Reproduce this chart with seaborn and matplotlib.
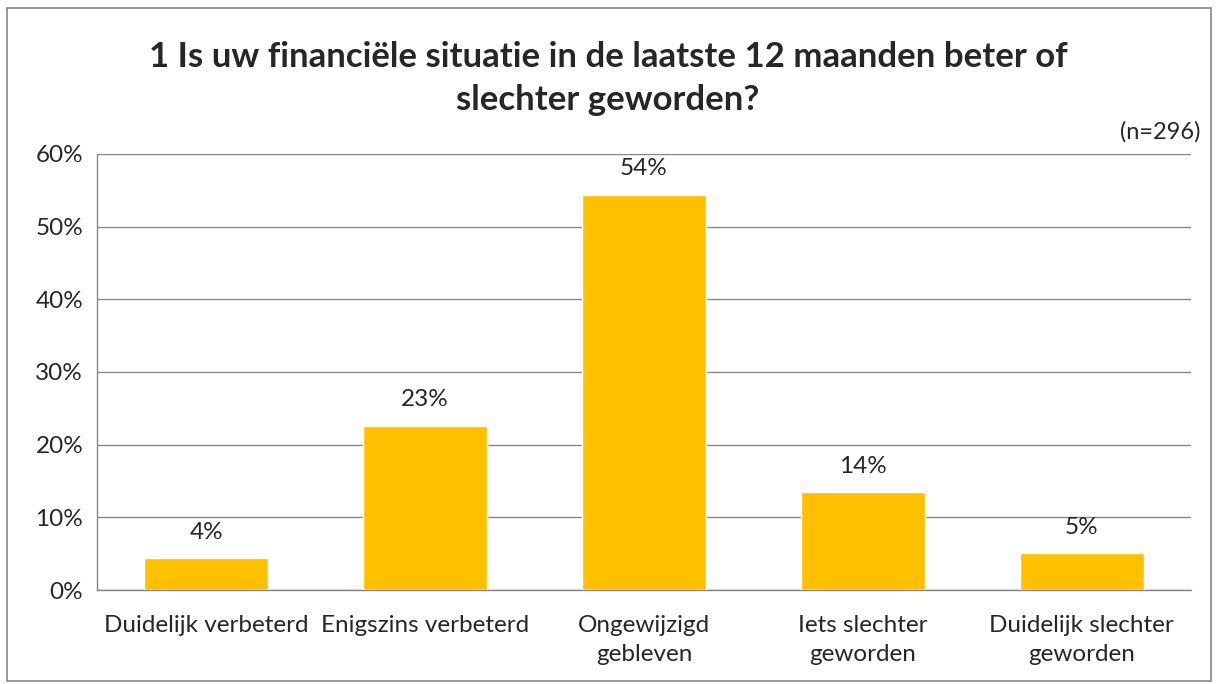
import matplotlib
matplotlib.use("Agg")
import matplotlib.pyplot as plt
import seaborn as sns
import pandas as pd
from matplotlib.patches import Rectangle
from matplotlib.ticker import PercentFormatter, FixedLocator

categories = ["Duidelijk verbeterd", "Enigszins verbeterd", "Ongewijzigd\ngebleven",
              "Iets slechter\ngeworden", "Duidelijk slechter\ngeworden"]
values = [4.4, 22.6, 54.4, 13.5, 5.1]
labels = ["4%", "23%", "54%", "14%", "5%"]

df = pd.DataFrame({"categorie": categories, "pct": values})

sns.set_style("white")
plt.rcParams["font.family"] = ["Lato", "DejaVu Sans"]

fig = plt.figure(figsize=(12.16, 6.84), dpi=100)
ax = fig.add_axes([0.0798, 0.1374, 0.8996, 0.6375])

sns.barplot(data=df, x="categorie", y="pct", color="#FFC000", width=0.567,
            saturation=1, ax=ax, zorder=3)

ax.set_ylim(0, 60)
ax.set_xlim(-0.5, 4.5)
ax.yaxis.set_major_locator(FixedLocator(range(0, 61, 10)))
ax.yaxis.set_major_formatter(PercentFormatter(decimals=0))
ax.grid(axis="y", color="#868686", linewidth=1, zorder=0)
ax.set_xlabel("")
ax.set_ylabel("")

for s in ["top", "right"]:
    ax.spines[s].set_visible(False)
for s in ["left", "bottom"]:
    ax.spines[s].set_color("#868686")
    ax.spines[s].set_linewidth(1)

# category ticks sit on the boundaries, labels in the middle
ax.set_xticks([i - 0.5 for i in range(6)])
ax.set_xticklabels([])
ax.set_xticks(range(5), minor=True)
ax.set_xticklabels(categories, minor=True, fontsize=17.5, linespacing=1.45)
ax.tick_params(axis="x", which="major", length=8, color="#868686", width=1)
ax.tick_params(axis="x", which="minor", length=0, pad=18)
ax.tick_params(axis="y", length=6, color="#868686", width=1, labelsize=17.5, pad=4)

for i, (v, t) in enumerate(zip(values, labels)):
    ax.annotate(t, (i, v), xytext=(0, 11), textcoords="offset points",
                ha="center", va="bottom", fontsize=17.5)

fig.text(0.5, 0.885, "1 Is uw financiële situatie in de laatste 12 maanden beter of\nslechter geworden?",
         ha="center", va="center", fontsize=25, fontweight="bold", linespacing=1.4)
fig.text(0.987, 0.808, "(n=296)", ha="right", va="center", fontsize=17)

fig.patches.append(Rectangle((0.006, 0.004), 0.99, 0.985, transform=fig.transFigure,
                             fill=False, edgecolor="#868686", linewidth=1.2))

fig.savefig("out.png", dpi=100)
